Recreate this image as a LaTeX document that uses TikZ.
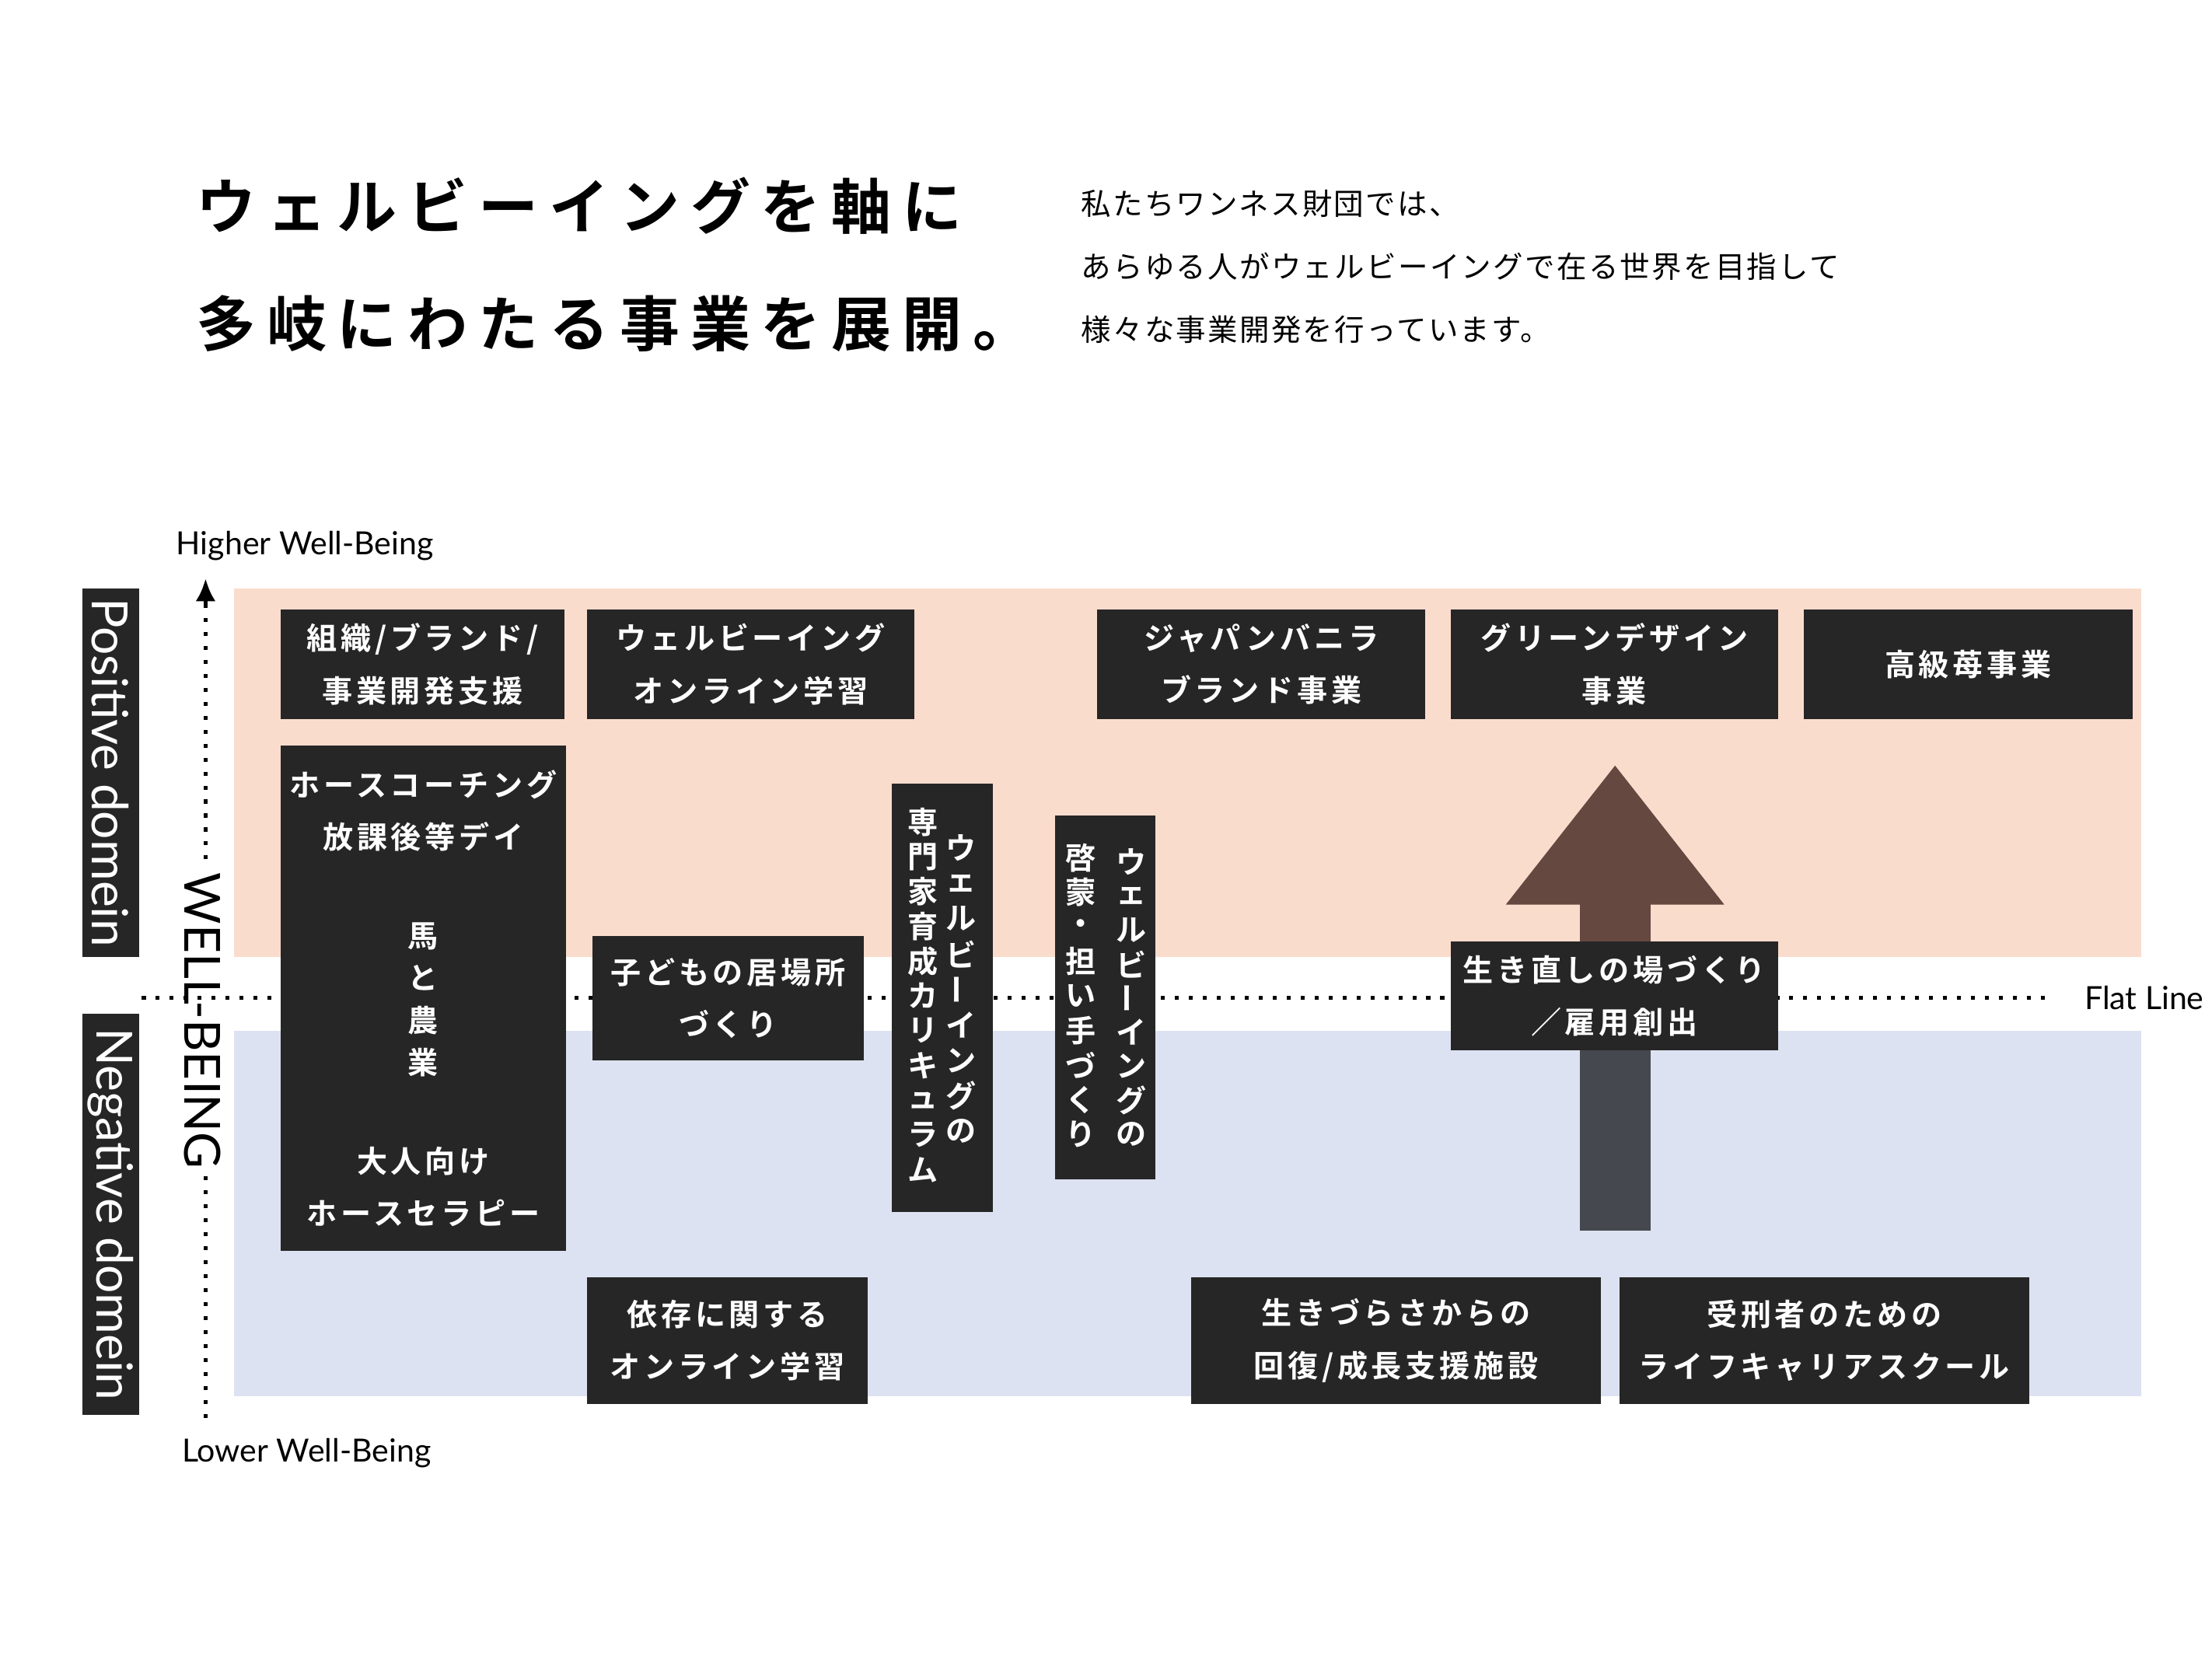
\documentclass[tikz,border=0pt]{standalone}
\usepackage{fontspec}
\usepackage{graphicx}
\usepackage{tikz}
\usetikzlibrary{arrows.meta, positioning}
\newfontfamily\jp{Noto Sans CJK JP}
\newfontfamily\jpb{Noto Sans CJK JP Bold}[LetterSpace=12]
\newfontfamily\jpt{Noto Sans CJK JP Bold}[LetterSpace=18]
\newfontfamily\jpl{Noto Sans CJK JP}[LetterSpace=6]
\newfontfamily\lat{Lato}
\definecolor{posbg}{HTML}{FADCCD}
\definecolor{negbg}{HTML}{DCE2F1}
\definecolor{boxbg}{HTML}{262626}
\definecolor{uparrow}{HTML}{654840}
\definecolor{downshaft}{HTML}{45484E}
\newcommand{\vbar}{\rotatebox[origin=c]{90}{ー}}

\begin{document}
\begin{tikzpicture}[x=0.01cm, y=-0.01cm,
    dbox/.style={rectangle, fill=boxbg, text=white, inner sep=0pt, align=center, font=\jpb\fontsize{6.1}{10.5}\selectfont},
    vchar/.style={text=white, inner sep=0pt, font=\jpb\fontsize{6.1}{7}\selectfont},
    dlabel/.style={rectangle, fill=boxbg, text=white, inner sep=0pt, minimum height=0.40cm, rotate=-90, font=\lat\fontsize{10}{10}\selectfont}
]
\useasboundingbox (0,0) rectangle (1560,1170);

% heading
\node[anchor=west, font=\jpt\fontsize{12}{13}\selectfont] (title1) at (126,145) {ウェルビーイングを軸に};
\node[anchor=west, font=\jpt\fontsize{12}{13}\selectfont] (title2) at (126,228) {多岐にわたる事業を展開。};
\node[anchor=west, align=left, font=\jpl\fontsize{6}{12.6}\selectfont] (lead) at (750,188) {私たちワンネス財団では、\\あらゆる人がウェルビーイングで在る世界を目指して\\様々な事業開発を行っています。};

% domains
\fill[posbg] (165,415) rectangle (1510,675);
\fill[negbg] (165,727) rectangle (1510,985);
\node[dlabel, minimum width=2.60cm] (pos) at (78,545) {Positive domein};
\node[dlabel, minimum width=2.83cm] (neg) at (78,856.5) {Negative domein};

% axes
\coordinate (axbot) at (145,1000);
\coordinate (axtop) at (145,425);
\draw[thick, dotted] (axbot) -- (axtop);
\draw[-{Latex[length=0.16cm,width=0.14cm]}, thick] (145,426) -- (145,408);
\node[anchor=west, font=\lat\fontsize{6.4}{8}\selectfont] (higher) at (112,385) {Higher Well-Being};
\node[anchor=west, font=\lat\fontsize{6.4}{8}\selectfont] (lower) at (116,1025) {Lower Well-Being};
\node[fill=white, inner sep=1pt, rotate=-90, font=\lat\fontsize{10}{11}\selectfont] (wb) at (143,720) {WELL-BEING};
\coordinate (flatl) at (100,704);
\coordinate (flatr) at (1445,704);
\draw[thick, dotted] (flatl) -- (flatr);
\node[anchor=east, inner sep=0pt, font=\lat\fontsize{6.4}{8}\selectfont] (flat) at (1555,704) {Flat Line};

% arrow
\fill[uparrow] (1062,638) -- (1139,540) -- (1216,638) -- cycle;
\fill[uparrow] (1114,636) rectangle (1164,666);
\fill[downshaft] (1114,740) rectangle (1164,868);

% top row
\node[dbox, minimum width=2.00cm, minimum height=0.77cm] (org) at (298,468.5) {組織/ブランド/\\事業開発支援};
\node[dbox, minimum width=2.31cm, minimum height=0.77cm] (wbonline) at (529.5,468.5) {ウェルビーイング\\オンライン学習};
\node[dbox, minimum width=2.31cm, minimum height=0.77cm] (vanilla) at (889.5,468.5) {ジャパンバニラ\\ブランド事業};
\node[dbox, minimum width=2.31cm, minimum height=0.77cm] (green) at (1138.5,468.5) {グリーンデザイン\\事業};
\node[dbox, minimum width=2.32cm, minimum height=0.77cm] (berry) at (1388,468.5) {高級苺事業};

% horse
\node[dbox, minimum width=2.01cm, minimum height=3.56cm] (horse) at (298.5,704) {};
\node[dbox, fill=none] (horse1) at (298.5,572) {ホースコーチング\\放課後等デイ};
\node[dbox, fill=none] (horse2) at (298.5,705) {馬\\[-2pt]と\\[-2pt]農\\[-2pt]業};
\node[dbox, fill=none] (horse3) at (298.5,837) {大人向け\\ホースセラピー};

% middle
\node[dbox, minimum width=1.91cm, minimum height=0.88cm] (kids) at (513.5,704) {子どもの居場所\\づくり};
\node[dbox, minimum width=0.71cm, minimum height=3.02cm] (expert) at (664.5,704) {};
\foreach \c [count=\i] in {ウ,ェ,ル,ビ,\vbar,イ,ン,グ,の}
  \node[vchar] (ea\i) at (678,{598+(\i-1)*25}) {\c};
\foreach \c [count=\i] in {専,門,家,育,成,カ,リ,キ,ュ,ラ,ム}
  \node[vchar] (eb\i) at (651,{580+(\i-1)*24.5}) {\c};
\node[dbox, minimum width=0.71cm, minimum height=2.57cm] (enlight) at (779.5,703.5) {};
\foreach \c [count=\i] in {ウ,ェ,ル,ビ,\vbar,イ,ン,グ,の}
  \node[vchar] (la\i) at (798,{608+(\i-1)*24}) {\c};
\foreach \c [count=\i] in {啓,蒙,・,担,い,手,づ,く,り}
  \node[vchar] (lb\i) at (762,{605+(\i-1)*24.4}) {\c};
\node[dbox, minimum width=2.31cm, minimum height=0.77cm] (restart) at (1138.5,702.5) {生き直しの場づくり\\／雇用創出};

% bottom row
\node[dbox, minimum width=1.98cm, minimum height=0.89cm] (addict) at (513,945.5) {依存に関する\\オンライン学習};
\node[dbox, minimum width=2.89cm, minimum height=0.89cm] (recover) at (984.5,945.5) {生きづらさからの\\回復/成長支援施設};
\node[dbox, minimum width=2.89cm, minimum height=0.89cm] (career) at (1286.5,945.5) {受刑者のための\\ライフキャリアスクール};

\end{tikzpicture}
\end{document}
